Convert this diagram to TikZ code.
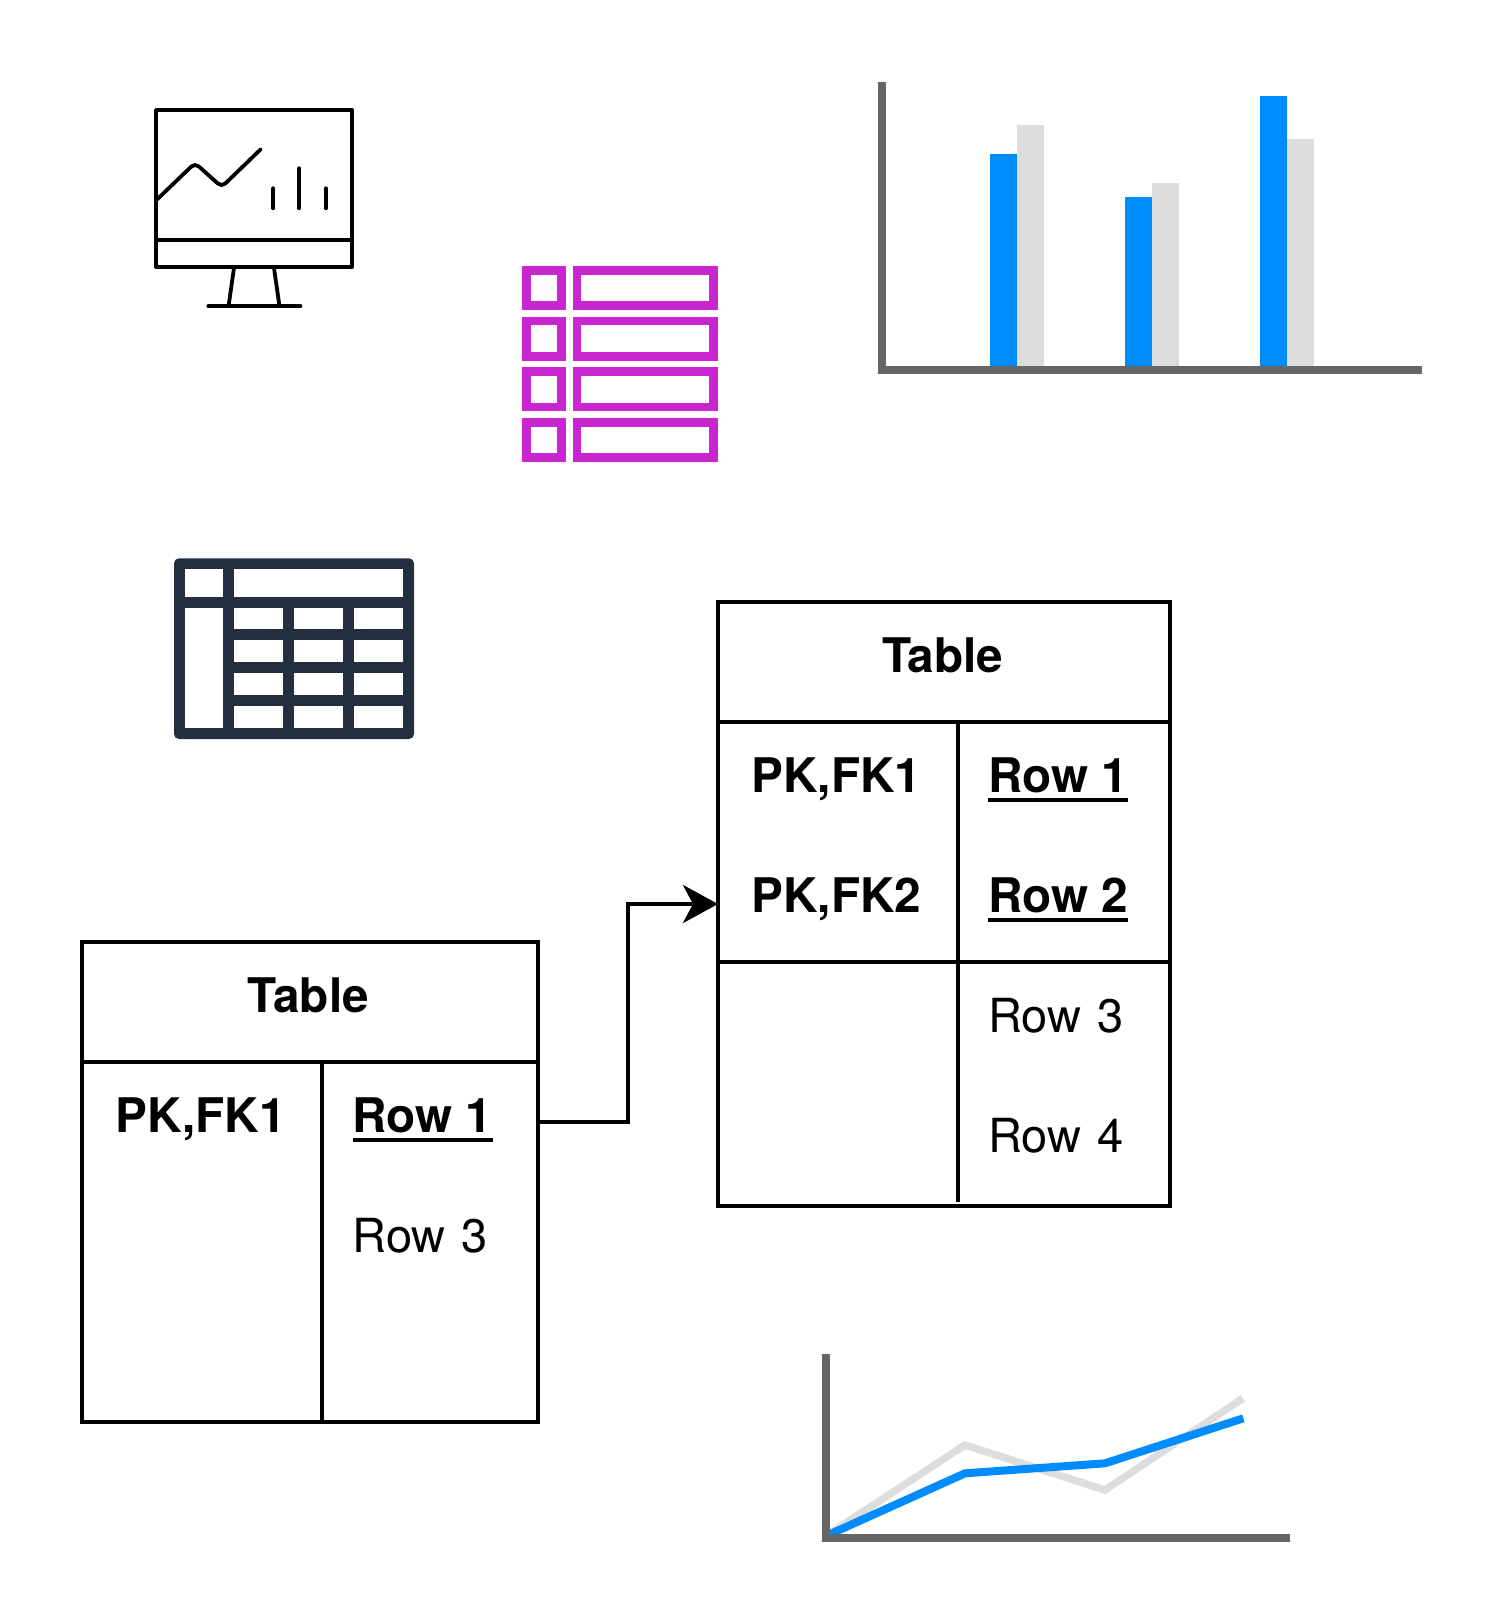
\documentclass[tikz,border=0pt]{standalone}
\usepackage{fontspec}
\setmainfont{TeX Gyre Heros}
\usepackage{tikz}
\usetikzlibrary{arrows.meta}
\usetikzlibrary{positioning}
\definecolor{chartblue}{HTML}{008CFF}
\definecolor{chartgrey}{HTML}{DDDDDD}
\definecolor{axisgrey}{HTML}{666666}
\definecolor{listpurple}{HTML}{C925D1}
\definecolor{gridnavy}{HTML}{232F3E}
\newcommand{\keyrow}[1]{\fontsize{47.7}{47.7}\selectfont\bfseries\spaceskip=0.28em\setbox0\hbox{#1}\rlap{\vrule width\wd0 height -5.6pt depth 9.6pt}\box0}
\tikzset{
    tablebox/.style={draw, line width=4pt, inner sep=0pt, outer sep=0pt},
    tablerule/.style={line width=4pt},
    title/.style={font=\fontsize{47.7}{47.7}\selectfont\bfseries, inner sep=0pt, text height=34pt, text depth=10pt},
    cell/.style={font=\fontsize{47}{47}\selectfont, inner sep=0pt, text width=170pt, align=left, text height=34pt, text depth=10pt},
    keycell/.style={cell, font=\fontsize{47.7}{47.7}\selectfont\bfseries},
    monitorline/.style={line width=3.8pt, line cap=round, line join=round},
    axisline/.style={axisgrey, line width=8pt},
    listbox/.style={listpurple, line width=8.7pt}
}

\begin{document}
\begin{tikzpicture}[x=1pt,y=-1pt]
    \useasboundingbox (0,0) rectangle (1504,1616);

    % monitor
    \draw[monitorline] (156,110) rectangle (352.2,266.7);
    \draw[monitorline] (156,240.3) -- (352.2,240.3);
    \draw[monitorline, rounded corners=5pt] (157,199.5) -- (195,163) -- (221.7,187) -- (260.7,149.3);
    \draw[monitorline] (273.3,188.3) -- (273.3,208.3);
    \draw[monitorline] (299.3,168.3) -- (299.3,208.3);
    \draw[monitorline] (325.7,188.3) -- (325.7,208.3);
    \draw[monitorline] (234,268) -- (228.7,305);
    \draw[monitorline] (274,268) -- (279.3,305);
    \draw[monitorline] (208.3,306.2) -- (300.5,306.2);

    % purple list
    \foreach \rowy in {270.35,321,371.7,422.35} {
        \draw[listbox] (526.35,\rowy) rectangle +(35.3,35.3);
        \draw[listbox] (577,\rowy) rectangle +(136.7,35.3);
    }

    % bar chart
    \foreach \barx/\bluetop/\greytop in {989.7/154/125,1125/197/182.7,1260/96/139} {
        \fill[chartblue] (\barx,\bluetop) rectangle (\barx+27,366);
        \fill[chartgrey] (\barx+27,\greytop) rectangle (\barx+54,366);
    }
    \draw[axisline] (882.4,82) -- (882.4,370) -- (1422,370);

    % grid icon
    \fill[gridnavy, rounded corners=5pt] (174,558.3) rectangle (414,739);
    \fill[white] (184.7,569.3) rectangle (223.3,597);
    \fill[white] (233.7,569.3) rectangle (403.3,597);
    \fill[white] (184.7,607.7) rectangle (223.3,728);
    \foreach \colx/\colw in {233.7/49.6,294/49.3,354/49.3} {
        \foreach \celly/\cellh in {607.7/21.6,640.3/21.7,673.3/21.7,706/22} {
            \fill[white] (\colx,\celly) rectangle +(\colw,\cellh);
        }
    }

    % right table
    \node (tblR) [tablebox, minimum width=452.3pt, minimum height=604pt] at (944.15,904) {};
    \draw[tablerule] (tblR.west |- 0,722) -- (tblR.east |- 0,722);
    \draw[tablerule] (tblR.west |- 0,962) -- (tblR.east |- 0,962);
    \draw[tablerule] (958,722) -- (958,1201.7);
    \node (titleR) [title] at (942.5,660.5) {Table};
    \node (pkR1) [keycell] at (836.6,780.5) {PK,FK1};
    \node (pkR2) [keycell, below of=pkR1, node distance=120pt] {PK,FK2};
    \node (rowR1) [cell, right of=pkR1, node distance=236.7pt] {\keyrow{Row 1}};
    \node (rowR2) [cell, below of=rowR1, node distance=120pt] {\keyrow{Row 2}};
    \node (rowR3) [cell, below of=rowR2, node distance=120pt] {Row 3};
    \node (rowR4) [cell, below of=rowR3, node distance=120pt] {Row 4};

    % left table
    \node (tblL) [tablebox, minimum width=456pt, minimum height=479.7pt] at (310,1181.85) {};
    \draw[tablerule] (tblL.west |- 0,1062) -- (tblL.east |- 0,1062);
    \draw[tablerule] (322,1062) -- (322,1421.7);
    \node (titleL) [title] at (308.3,1000.5) {Table};
    \node (pkL1) [keycell] at (200.9,1120.5) {PK,FK1};
    \node (rowL1) [cell, right of=pkL1, node distance=236.8pt] {\keyrow{Row 1}};
    \node (rowL3) [cell, below of=rowL1, node distance=120pt] {Row 3};

    \coordinate (outL) at (538,1121.7);
    \coordinate (bendL) at (628.3,904);
    \draw[line width=4pt, -{Stealth[length=35pt,width=38pt,inset=10pt]}] (outL) -| (bendL) -- (tblR.west);

    % line chart
    \draw[chartgrey, line width=7.5pt] (830,1533.3) -- (965,1445) -- (1105,1490) -- (1243,1398.3);
    \draw[chartblue, line width=8pt] (826,1536) -- (965,1473.3) -- (1105,1463.3) -- (1243.3,1418.3);
    \draw[axisline] (826,1354) -- (826,1538) -- (1290,1538);
\end{tikzpicture}
\end{document}
